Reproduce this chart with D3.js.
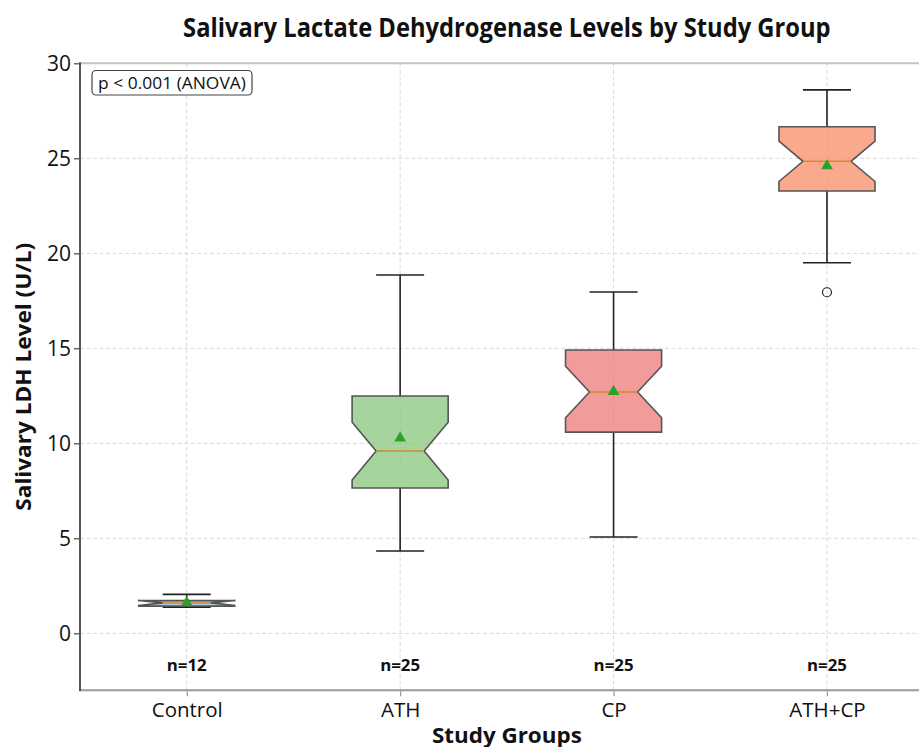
<!DOCTYPE html>
<html><head><meta charset="utf-8">
<script src="https://cdn.jsdelivr.net/npm/d3@7"></script>
<style>
html,body{margin:0;padding:0;background:#fff;}
svg{display:block;}
</style></head>
<body>
<svg id="chart" width="919" height="747"></svg>
<script>
// ---- data ----
const categories = ["Control", "ATH", "CP", "ATH+CP"];
const sampleSizes = [12, 25, 25, 25];
const whiskerLow = [1.38, 4.33, 5.07, 19.5];
const q1 = [1.43, 7.65, 10.59, 23.28];
const medians = [1.60, 9.59, 12.70, 24.84];
const q3 = [1.72, 12.49, 14.91, 26.66];
const whiskerHigh = [2.05, 18.86, 17.96, 28.6];
const means = [1.62, 10.28, 12.72, 24.6];
const outliers = [[], [], [], [17.95]];
const yTicks = [0, 5, 10, 15, 20, 25, 30];
const fills = ["#8bbcd6", "#87c77b", "#ee7a7a", "#f78e66"];
const pText = "p < 0.001 (ANOVA)";

// ---- layout ----
const svg = d3.select("#chart");
const pLeft = 80, pRight = 933.7, pTop = 63.3, pBottom = 690.3;
const x = d3.scaleLinear().domain([-0.5, 3.5]).range([pLeft, pRight]);
const y = d3.scaleLinear().domain([-3, 30]).range([pBottom, pTop]);
const font = "'Open Sans', 'Liberation Sans', sans-serif";

// draw text at (tx,ty) with optional rotation, horizontally condensed to a target width
function label(parent, tx, ty, rot, size, weight, str, target) {
  const wrap = parent.append("g");
  const t = wrap.append("text").attr("x", 0).attr("y", 0).attr("text-anchor", "middle")
    .attr("font-family", font).attr("font-weight", weight).attr("font-size", size)
    .attr("fill", "#111").text(str);
  const w = t.node().getComputedTextLength();
  const k = (target && w > 0) ? target / w : 1;
  wrap.attr("transform", `translate(${tx},${ty}) rotate(${rot}) scale(${k.toFixed(4)},1)`);
  return t;
}

const g = svg.append("g");

// grid
g.append("g").selectAll("line").data(yTicks).join("line")
  .attr("x1", pLeft).attr("x2", pRight)
  .attr("y1", d => y(d)).attr("y2", d => y(d))
  .attr("stroke", "#d9d9d9").attr("stroke-width", 1).attr("stroke-dasharray", "4,2.5");
g.append("g").selectAll("line").data(categories).join("line")
  .attr("x1", (d, i) => x(i)).attr("x2", (d, i) => x(i))
  .attr("y1", pTop).attr("y2", pBottom)
  .attr("stroke", "#d9d9d9").attr("stroke-width", 1).attr("stroke-dasharray", "4,2.5");

// boxes
const bw = 0.45, capW = 0.225;
const boxes = g.append("g");
categories.forEach((c, i) => {
  const notch = 1.57 * (q3[i] - q1[i]) / Math.sqrt(sampleSizes[i]);
  const nlo = medians[i] - notch, nhi = medians[i] + notch;
  const l = x(i - bw / 2), r = x(i + bw / 2), inset = (r - l) * 0.25;
  const pts = [
    [l, y(q1[i])], [r, y(q1[i])], [r, y(nlo)], [r - inset, y(medians[i])], [r, y(nhi)],
    [r, y(q3[i])], [l, y(q3[i])], [l, y(nhi)], [l + inset, y(medians[i])], [l, y(nlo)]
  ];
  const cx = x(i);
  boxes.append("line").attr("x1", cx).attr("x2", cx).attr("y1", y(q3[i])).attr("y2", y(whiskerHigh[i]))
    .attr("stroke", "#222").attr("stroke-width", 1.6);
  boxes.append("line").attr("x1", cx).attr("x2", cx).attr("y1", y(q1[i])).attr("y2", y(whiskerLow[i]))
    .attr("stroke", "#222").attr("stroke-width", 1.6);
  [whiskerHigh[i], whiskerLow[i]].forEach(v => {
    boxes.append("line").attr("x1", x(i - capW / 2)).attr("x2", x(i + capW / 2))
      .attr("y1", y(v)).attr("y2", y(v)).attr("stroke", "#222").attr("stroke-width", 1.6);
  });
  boxes.append("path").attr("d", "M" + pts.map(p => p.join(",")).join("L") + "Z")
    .attr("fill", fills[i]).attr("fill-opacity", 0.75)
    .attr("stroke", "#555").attr("stroke-width", 1.6).attr("stroke-linejoin", "miter");
  boxes.append("line").attr("x1", l + inset).attr("x2", r - inset)
    .attr("y1", y(medians[i])).attr("y2", y(medians[i]))
    .attr("stroke", "#d4892a").attr("stroke-width", 1.5);
  boxes.append("path").attr("d", d3.symbol(d3.symbolTriangle, 60)())
    .attr("transform", `translate(${cx},${y(means[i])})`).attr("fill", "#2ca02c");
  outliers[i].forEach(v => {
    boxes.append("circle").attr("cx", cx).attr("cy", y(v)).attr("r", 4.5)
      .attr("fill", "none").attr("stroke", "#222").attr("stroke-width", 1.2);
  });
  label(boxes, cx, y(-1.7) + 5.5, 0, 15.5, "bold", "n=" + sampleSizes[i], 40);
});

// spines
g.append("line").attr("x1", pLeft).attr("x2", pRight).attr("y1", pTop).attr("y2", pTop)
  .attr("stroke", "#c4c4c4").attr("stroke-width", 2);
g.append("line").attr("x1", pLeft).attr("x2", pRight).attr("y1", pBottom).attr("y2", pBottom)
  .attr("stroke", "#9a9a9a").attr("stroke-width", 2);
g.append("line").attr("x1", pLeft).attr("x2", pLeft).attr("y1", pTop - 1).attr("y2", pBottom + 1)
  .attr("stroke", "#555").attr("stroke-width", 2);

// y axis
const yAxis = d3.axisLeft(y).tickValues(yTicks).tickSize(5).tickPadding(3).tickFormat(d3.format("d"));
const ya = g.append("g").attr("transform", `translate(${pLeft - 1},0)`).call(yAxis);
ya.select(".domain").remove();
ya.selectAll(".tick line").attr("stroke", "#444").attr("stroke-width", 1.2);
ya.selectAll(".tick text").attr("font-family", font).attr("font-size", 21).attr("fill", "#111");

// x axis
const xAxis = d3.axisBottom(x).tickValues(d3.range(categories.length)).tickSize(5).tickPadding(6)
  .tickFormat(i => categories[i]);
const xa = g.append("g").attr("transform", `translate(0,${pBottom + 1})`).call(xAxis);
xa.select(".domain").remove();
xa.selectAll(".tick line").attr("stroke", "#9a9a9a").attr("stroke-width", 1.2);
xa.selectAll(".tick text").attr("font-family", font).attr("font-size", 20.5).attr("fill", "#111");

// p-value box
g.append("rect").attr("x", 92).attr("y", 70.5).attr("width", 160).attr("height", 24.5)
  .attr("rx", 4).attr("fill", "#fff").attr("stroke", "#444").attr("stroke-width", 1.2);
label(g, 172, 88.5, 0, 15.5, "normal", pText, 148);

// titles
label(svg, (pLeft + pRight) / 2, 36.5, 0, 27, "bold", "Salivary Lactate Dehydrogenase Levels by Study Group", 648);
label(svg, (pLeft + pRight) / 2, 742.5, 0, 20.5, "bold", "Study Groups", 150);
label(svg, 31, (pTop + pBottom) / 2, -90, 22, "bold", "Salivary LDH Level (U/L)", 268);
</script>
</body></html>
